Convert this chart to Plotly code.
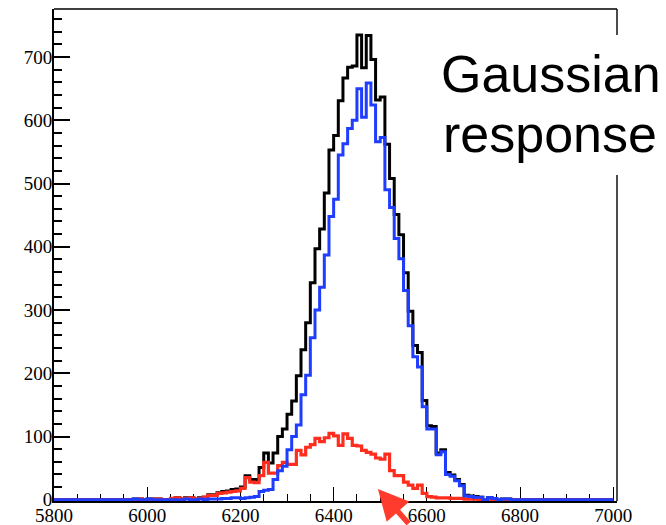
import plotly.graph_objects as go

# Histogram binning: 120 bins of width 10 starting at 5800
bin_start = 5800
bin_width = 10

# Total spectrum (black)
total_counts = [
    0, 0, 0, 0, 0, 0, 0, 0, 0, 0,
    0, 0, 0, 0, 0, 0, 0, 1, 1, 0,
    1, 1, 1, 0, 0, 2, 3, 1, 3, 3,
    1, 3, 4, 8, 8, 11, 13, 14, 16, 17,
    20, 38, 32, 32, 51, 74, 58, 74, 100, 112,
    135, 156, 196, 237, 280, 343, 397, 428, 485, 553,
    576, 631, 667, 684, 686, 735, 683, 734, 696, 632,
    637, 562, 508, 451, 419, 359, 298, 244, 233, 157,
    117, 116, 74, 79, 43, 39, 32, 24, 7, 6,
    5, 4, 0, 3, 2, 0, 1, 1, 0, 0,
    0, 0, 0, 0, 0, 0, 0, 0, 0, 0,
    0, 0, 0, 0, 0, 0, 0, 0, 0, 0,
]

# Gaussian component (blue)
gauss_counts = [
    0, 0, 0, 0, 0, 0, 0, 0, 0, 0,
    0, 0, 0, 0, 0, 0, 0, 1, 0, 0,
    1, 0, 0, 0, 0, 0, 0, 0, 1, 0,
    0, 1, 0, 1, 1, 1, 2, 2, 3, 3,
    2, 3, 4, 5, 13, 15, 16, 32, 46, 53,
    79, 100, 118, 166, 197, 256, 300, 336, 387, 448,
    475, 545, 563, 587, 600, 650, 605, 659, 624, 566,
    573, 490, 462, 413, 381, 331, 275, 226, 210, 147,
    112, 112, 71, 76, 40, 37, 30, 22, 6, 5,
    4, 4, 0, 3, 2, 0, 1, 1, 0, 0,
    0, 0, 0, 0, 0, 0, 0, 0, 0, 0,
    0, 0, 0, 0, 0, 0, 0, 0, 0, 0,
]

# Non-gaussian tail component (red)
tail_counts = [
    0, 0, 0, 0, 0, 0, 0, 0, 0, 0,
    0, 0, 0, 0, 0, 0, 0, 0, 1, 0,
    0, 1, 1, 0, 0, 2, 3, 1, 2, 3,
    1, 2, 4, 7, 7, 10, 11, 12, 13, 14,
    18, 35, 28, 27, 38, 59, 42, 42, 54, 59,
    56, 56, 78, 71, 83, 87, 97, 92, 98, 105,
    101, 86, 104, 97, 86, 85, 78, 75, 72, 66,
    64, 72, 46, 38, 38, 28, 23, 18, 23, 10,
    5, 4, 3, 3, 3, 2, 2, 2, 1, 1,
    1, 0, 0, 0, 0, 0, 0, 0, 0, 0,
    0, 0, 0, 0, 0, 0, 0, 0, 0, 0,
    0, 0, 0, 0, 0, 0, 0, 0, 0, 0,
]

x_ticks = [5800, 6000, 6200, 6400, 6600, 6800, 7000]
y_ticks = [0, 100, 200, 300, 400, 500, 600, 700]

label_lines = ["Gaussian", "response"]

edges = [bin_start + bin_width * i for i in range(len(total_counts) + 1)]


def step_trace(counts, color, width):
    return go.Scatter(
        x=edges,
        y=list(counts) + [counts[-1]],
        mode="lines",
        line=dict(shape="hv", color=color, width=width),
        hoverinfo="skip",
    )


fig = go.Figure()
fig.add_trace(step_trace(total_counts, "#000000", 3))
fig.add_trace(step_trace(tail_counts, "#ff2d1e", 3.2))
fig.add_trace(step_trace(gauss_counts, "#1f3dff", 3))

# plot area in pixels
W, H = 666, 525
L, R, T, B = 54, 49, 9, 24
pw, ph = W - L - R, H - T - B


def px_x(x):
    return (x - L) / pw


def px_y(y):
    return (H - B - y) / ph


tick_font = dict(family="Liberation Serif", size=19, color="black")

fig.update_xaxes(
    range=[5800, 7008], tickvals=x_ticks, ticktext=[str(v) for v in x_ticks],
    showgrid=False, zeroline=False, showline=True, linecolor="black", linewidth=2,
    ticks="inside", ticklen=14, tickwidth=1.2, tickcolor="black",
    minor=dict(ticks="inside", ticklen=7, tickwidth=1.2, tickcolor="black",
               tick0=5800, dtick=50, showgrid=False),
    tickfont=tick_font, ticklabelstandoff=-4,
    layer="below traces", fixedrange=True, automargin=False,
)
fig.update_yaxes(
    range=[-2, 776], tickvals=y_ticks, ticktext=[str(v) for v in y_ticks],
    showgrid=False, zeroline=False, showline=True, linecolor="black", linewidth=2,
    ticks="inside", ticklen=16, tickwidth=1.5, tickcolor="black",
    minor=dict(ticks="inside", ticklen=8, tickwidth=1.5, tickcolor="black",
               tick0=0, dtick=20, showgrid=False),
    tickfont=tick_font, ticklabelstandoff=-4,
    layer="below traces", fixedrange=True, automargin=False,
)

shapes = [
    # top and right frame lines
    dict(type="line", xref="paper", yref="paper", x0=0, x1=1, y0=1, y1=1,
         line=dict(color="black", width=1.4), layer="above"),
    dict(type="line", xref="paper", yref="paper", x0=1, x1=1, y0=0, y1=1,
         line=dict(color="black", width=1.4), layer="above"),
    # white label box
    dict(type="rect", xref="paper", yref="paper",
         x0=px_x(432), x1=px_x(670), y0=px_y(175), y1=px_y(35),
         fillcolor="white", line=dict(width=0), layer="above"),
]

label_font = dict(family="Liberation Sans", size=52, color="black")
annotations = [
    dict(text=label_lines[0], xref="paper", yref="paper", x=px_x(551), y=px_y(74),
         xanchor="center", yanchor="middle", showarrow=False, font=label_font),
    dict(text=label_lines[1], xref="paper", yref="paper", x=px_x(550), y=px_y(134),
         xanchor="center", yanchor="middle", showarrow=False, font=label_font),
    # red arrow pointing at the tail region
    dict(text="", x=6495, y=17, xref="x", yref="y", showarrow=True,
         ax=32, ay=54, arrowhead=2, arrowsize=1.1, arrowwidth=5.5,
         arrowcolor="#ff3b2e", standoff=0),
]

fig.update_layout(
    width=W, height=H,
    margin=dict(l=L, r=R, t=T, b=B),
    paper_bgcolor="white", plot_bgcolor="white",
    showlegend=False, shapes=shapes, annotations=annotations,
)

fig.write_html("out.html")
